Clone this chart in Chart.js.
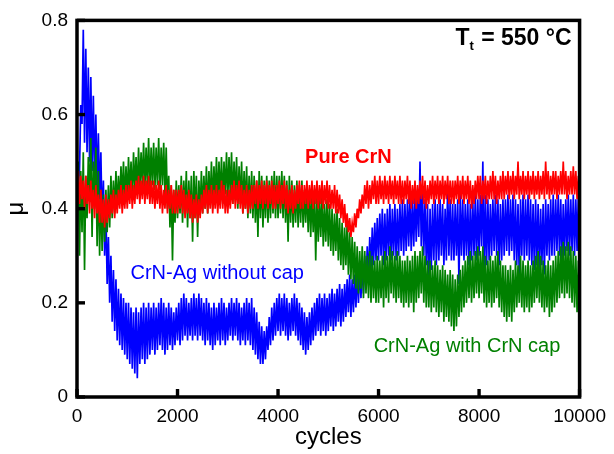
<!DOCTYPE html>
<html>
<head>
<meta charset="utf-8">
<script src="https://cdn.jsdelivr.net/npm/chart.js@4"></script>
<style>
  html, body { margin: 0; padding: 0; background: #fff; }
  #wrap { width: 614px; height: 454px; position: relative; }
</style>
</head>
<body>
<div id="wrap"><canvas id="c"></canvas></div>
<script>
// friction trace: lower and upper edge of the noisy
// band, one pair every STEP cycles
const STEP = 50;

const pureLo = [
  0.42,0.41,0.42,0.40,0.41,0.39,0.40,0.38,0.39,0.37,
  0.37,0.36,0.37,0.38,0.39,0.38,0.39,0.40,0.39,0.40,
  0.40,0.41,0.40,0.41,0.42,0.41,0.42,0.41,0.42,0.41,
  0.41,0.40,0.41,0.40,0.39,0.40,0.39,0.40,0.39,0.39,
  0.39,0.40,0.39,0.38,0.39,0.38,0.37,0.38,0.37,0.38,
  0.39,0.40,0.39,0.40,0.39,0.40,0.39,0.40,0.40,0.39,
  0.39,0.40,0.41,0.40,0.41,0.40,0.39,0.40,0.39,0.40,
  0.40,0.41,0.40,0.41,0.40,0.41,0.40,0.41,0.40,0.40,
  0.41,0.40,0.41,0.40,0.39,0.40,0.39,0.40,0.41,0.40,
  0.40,0.41,0.40,0.41,0.40,0.41,0.40,0.41,0.40,0.41,
  0.40,0.40,0.40,0.39,0.39,0.38,0.37,0.36,0.35,0.34,
  0.35,0.36,0.38,0.39,0.40,0.41,0.40,0.41,0.42,0.41,
  0.41,0.42,0.41,0.42,0.41,0.42,0.41,0.42,0.41,0.41,
  0.41,0.42,0.41,0.40,0.41,0.40,0.41,0.42,0.41,0.40,
  0.41,0.42,0.41,0.42,0.41,0.42,0.41,0.42,0.41,0.41,
  0.41,0.42,0.41,0.42,0.41,0.42,0.41,0.40,0.41,0.42,
  0.42,0.41,0.42,0.41,0.42,0.42,0.42,0.41,0.42,0.42,
  0.42,0.43,0.42,0.43,0.42,0.43,0.42,0.43,0.42,0.43,
  0.42,0.43,0.42,0.43,0.42,0.43,0.42,0.43,0.42,0.43,
  0.43,0.42,0.43,0.43,0.43,0.42,0.43,0.43,0.43,0.42,
  0.43
];
const pureHi = [
  0.48,0.47,0.46,0.47,0.45,0.46,0.44,0.45,0.43,0.44,
  0.42,0.43,0.42,0.43,0.44,0.43,0.44,0.45,0.44,0.45,
  0.45,0.46,0.45,0.46,0.47,0.46,0.47,0.46,0.47,0.46,
  0.46,0.45,0.46,0.45,0.44,0.45,0.44,0.45,0.44,0.44,
  0.44,0.45,0.44,0.43,0.44,0.43,0.42,0.43,0.42,0.43,
  0.44,0.45,0.44,0.45,0.44,0.45,0.44,0.46,0.45,0.44,
  0.44,0.45,0.46,0.45,0.46,0.45,0.44,0.45,0.44,0.45,
  0.45,0.46,0.45,0.46,0.45,0.46,0.45,0.46,0.45,0.45,
  0.46,0.45,0.46,0.45,0.44,0.45,0.44,0.45,0.46,0.45,
  0.45,0.46,0.45,0.46,0.45,0.46,0.45,0.46,0.45,0.46,
  0.45,0.44,0.45,0.44,0.43,0.42,0.41,0.39,0.38,0.37,
  0.39,0.40,0.42,0.43,0.45,0.46,0.45,0.46,0.47,0.46,
  0.47,0.46,0.47,0.46,0.47,0.46,0.47,0.46,0.47,0.46,
  0.46,0.47,0.46,0.45,0.46,0.45,0.46,0.47,0.46,0.45,
  0.46,0.47,0.46,0.47,0.46,0.47,0.46,0.47,0.46,0.46,
  0.46,0.47,0.46,0.47,0.46,0.47,0.46,0.45,0.46,0.47,
  0.47,0.46,0.47,0.46,0.47,0.48,0.47,0.46,0.47,0.48,
  0.47,0.48,0.47,0.48,0.47,0.50,0.47,0.48,0.47,0.48,
  0.47,0.48,0.47,0.48,0.47,0.48,0.50,0.48,0.47,0.48,
  0.48,0.47,0.48,0.50,0.48,0.47,0.48,0.49,0.48,0.47,
  0.48
];

const capLo = [
  0.40,0.30,0.35,0.27,0.38,0.42,0.34,0.40,0.32,0.30,
  0.31,0.33,0.35,0.36,0.38,0.39,0.40,0.41,0.42,0.41,
  0.42,0.43,0.42,0.44,0.43,0.44,0.45,0.44,0.45,0.44,
  0.45,0.44,0.45,0.44,0.45,0.43,0.40,0.36,0.29,0.37,
  0.38,0.39,0.37,0.39,0.36,0.38,0.33,0.38,0.34,0.39,
  0.39,0.40,0.39,0.41,0.40,0.42,0.41,0.42,0.41,0.43,
  0.42,0.43,0.41,0.42,0.40,0.41,0.39,0.40,0.38,0.39,
  0.38,0.37,0.34,0.38,0.36,0.38,0.37,0.38,0.39,0.38,
  0.38,0.39,0.38,0.37,0.33,0.37,0.36,0.37,0.36,0.37,
  0.36,0.37,0.35,0.34,0.35,0.29,0.33,0.34,0.32,0.33,
  0.32,0.31,0.30,0.31,0.29,0.28,0.27,0.28,0.26,0.25,
  0.24,0.23,0.22,0.23,0.21,0.22,0.21,0.20,0.21,0.20,
  0.20,0.21,0.19,0.21,0.20,0.22,0.21,0.20,0.21,0.20,
  0.19,0.20,0.19,0.20,0.18,0.20,0.21,0.22,0.20,0.19,
  0.19,0.18,0.19,0.18,0.17,0.18,0.16,0.17,0.16,0.15,
  0.14,0.15,0.17,0.18,0.19,0.20,0.21,0.20,0.21,0.22,
  0.21,0.22,0.20,0.19,0.20,0.19,0.20,0.21,0.19,0.18,
  0.17,0.16,0.17,0.16,0.18,0.19,0.20,0.19,0.18,0.19,
  0.18,0.19,0.20,0.21,0.20,0.19,0.18,0.19,0.17,0.18,
  0.19,0.20,0.21,0.22,0.21,0.22,0.21,0.20,0.19,0.18,
  0.19
];
const capHi = [
  0.50,0.48,0.52,0.47,0.51,0.55,0.50,0.53,0.48,0.44,
  0.43,0.44,0.45,0.47,0.46,0.48,0.47,0.49,0.50,0.49,
  0.51,0.50,0.52,0.51,0.53,0.52,0.54,0.53,0.55,0.53,
  0.54,0.53,0.55,0.53,0.54,0.53,0.47,0.45,0.44,0.46,
  0.45,0.47,0.46,0.48,0.46,0.47,0.48,0.47,0.46,0.48,
  0.47,0.49,0.48,0.50,0.49,0.51,0.50,0.51,0.50,0.52,
  0.51,0.52,0.50,0.51,0.49,0.50,0.48,0.49,0.47,0.48,
  0.47,0.46,0.48,0.47,0.46,0.47,0.46,0.47,0.48,0.47,
  0.47,0.48,0.47,0.46,0.47,0.46,0.45,0.46,0.45,0.46,
  0.44,0.45,0.44,0.43,0.44,0.43,0.42,0.43,0.41,0.42,
  0.41,0.40,0.39,0.40,0.38,0.37,0.36,0.37,0.35,0.34,
  0.33,0.32,0.31,0.32,0.31,0.30,0.31,0.30,0.29,0.30,
  0.29,0.30,0.31,0.30,0.32,0.31,0.30,0.31,0.30,0.29,
  0.29,0.30,0.29,0.30,0.31,0.30,0.31,0.32,0.30,0.29,
  0.29,0.28,0.29,0.28,0.27,0.28,0.27,0.26,0.27,0.26,
  0.25,0.26,0.27,0.28,0.29,0.30,0.31,0.30,0.31,0.32,
  0.31,0.32,0.30,0.29,0.30,0.29,0.30,0.31,0.29,0.28,
  0.28,0.27,0.28,0.27,0.29,0.28,0.30,0.29,0.28,0.29,
  0.28,0.29,0.30,0.31,0.30,0.29,0.28,0.29,0.28,0.29,
  0.30,0.31,0.32,0.33,0.32,0.33,0.32,0.31,0.30,0.29,
  0.30
];

const noCapLo = [
  0.35,0.48,0.58,0.54,0.52,0.50,0.48,0.46,0.44,0.42,
  0.36,0.30,0.24,0.20,0.16,0.14,0.12,0.11,0.10,0.09,
  0.08,0.07,0.06,0.05,0.04,0.07,0.08,0.07,0.08,0.09,
  0.10,0.09,0.10,0.11,0.10,0.09,0.10,0.11,0.10,0.11,
  0.12,0.11,0.12,0.13,0.12,0.13,0.12,0.13,0.12,0.13,
  0.12,0.11,0.12,0.11,0.10,0.11,0.12,0.11,0.12,0.11,
  0.12,0.13,0.12,0.13,0.12,0.11,0.12,0.11,0.12,0.11,
  0.10,0.09,0.08,0.07,0.07,0.08,0.10,0.11,0.12,0.13,
  0.14,0.13,0.14,0.13,0.12,0.13,0.14,0.13,0.12,0.11,
  0.10,0.09,0.10,0.11,0.12,0.13,0.14,0.13,0.14,0.13,
  0.14,0.15,0.14,0.15,0.16,0.15,0.16,0.17,0.18,0.17,
  0.18,0.19,0.20,0.21,0.22,0.23,0.25,0.27,0.28,0.29,
  0.29,0.30,0.28,0.29,0.30,0.29,0.30,0.29,0.30,0.31,
  0.30,0.31,0.32,0.31,0.32,0.33,0.34,0.32,0.30,0.28,
  0.23,0.27,0.29,0.28,0.29,0.30,0.28,0.29,0.30,0.29,
  0.29,0.30,0.24,0.30,0.29,0.30,0.28,0.29,0.30,0.29,
  0.30,0.32,0.25,0.28,0.29,0.30,0.31,0.30,0.28,0.29,
  0.30,0.31,0.30,0.31,0.29,0.28,0.25,0.30,0.29,0.30,
  0.29,0.28,0.27,0.28,0.27,0.28,0.26,0.30,0.29,0.30,
  0.30,0.31,0.30,0.29,0.30,0.31,0.30,0.31,0.30,0.31,
  0.32
];
const noCapHi = [
  0.45,0.62,0.78,0.74,0.70,0.68,0.64,0.60,0.56,0.52,
  0.46,0.40,0.34,0.30,0.27,0.25,0.23,0.22,0.21,0.20,
  0.20,0.19,0.18,0.19,0.18,0.19,0.20,0.19,0.20,0.19,
  0.20,0.19,0.20,0.21,0.20,0.19,0.20,0.19,0.18,0.19,
  0.20,0.21,0.22,0.21,0.20,0.21,0.22,0.21,0.22,0.21,
  0.20,0.21,0.20,0.19,0.20,0.19,0.20,0.21,0.20,0.19,
  0.20,0.21,0.20,0.21,0.20,0.19,0.20,0.21,0.20,0.21,
  0.19,0.18,0.16,0.15,0.14,0.15,0.17,0.19,0.20,0.21,
  0.22,0.21,0.22,0.21,0.20,0.21,0.22,0.21,0.20,0.19,
  0.18,0.17,0.18,0.19,0.20,0.21,0.22,0.21,0.22,0.21,
  0.22,0.23,0.22,0.23,0.24,0.23,0.24,0.25,0.26,0.25,
  0.26,0.27,0.28,0.29,0.30,0.32,0.34,0.36,0.37,0.38,
  0.39,0.40,0.39,0.40,0.41,0.40,0.41,0.40,0.41,0.42,
  0.41,0.42,0.43,0.42,0.43,0.44,0.50,0.44,0.42,0.41,
  0.40,0.41,0.42,0.41,0.42,0.41,0.40,0.45,0.42,0.41,
  0.41,0.42,0.43,0.42,0.41,0.42,0.41,0.42,0.43,0.42,
  0.43,0.50,0.43,0.42,0.41,0.42,0.43,0.42,0.41,0.42,
  0.42,0.43,0.42,0.43,0.42,0.41,0.42,0.43,0.42,0.43,
  0.42,0.41,0.42,0.41,0.40,0.41,0.42,0.41,0.42,0.43,
  0.42,0.43,0.42,0.41,0.42,0.43,0.42,0.43,0.42,0.43,
  0.42
];

const xTicks = [0, 2000, 4000, 6000, 8000, 10000];
const yTicks = [0, 0.2, 0.4, 0.6, 0.8];

const notes = [
  { text: 'Pure CrN', x: 5400, y: 0.508, color: '#ff0000', weight: 'bold' },
  { text: 'CrN-Ag without cap', x: 2790, y: 0.262, color: '#0000ff', weight: 'normal' },
  { text: 'CrN-Ag with CrN cap', x: 7760, y: 0.108, color: '#008000', weight: 'normal' }
];

const FONT = "'Liberation Sans', Arial, sans-serif";

// the trace swings from the low edge to the high edge between samples
function trace(lo, hi) {
  const pts = [];
  lo.forEach((v, i) => {
    pts.push({ x: i * STEP, y: v });
    pts.push({ x: i * STEP + STEP / 2, y: hi[i] });
  });
  return pts;
}

const frame = {
  id: 'frame',
  afterDatasetsDraw(chart) {
    const { ctx, chartArea: a, scales } = chart;
    ctx.save();
    ctx.fillStyle = '#000';
    // inward ticks
    xTicks.forEach(t => {
      const px = scales.x.getPixelForValue(t);
      ctx.fillRect(px - 1.7, a.bottom - 8, 3.4, 8);
    });
    yTicks.forEach(t => {
      const py = scales.y.getPixelForValue(t);
      ctx.fillRect(a.left, py - 1.7, 8, 3.4);
    });
    ctx.strokeStyle = '#000';
    ctx.lineWidth = 3.5;
    ctx.strokeRect(a.left, a.top, a.right - a.left, a.bottom - a.top);

    // curve labels
    ctx.textAlign = 'center';
    ctx.textBaseline = 'middle';
    notes.forEach(n => {
      ctx.font = n.weight + ' 20px ' + FONT;
      ctx.fillStyle = n.color;
      ctx.fillText(n.text, scales.x.getPixelForValue(n.x), scales.y.getPixelForValue(n.y));
    });

    // test temperature, T with subscript t
    const right = a.right - 8;
    const base = a.top + 25;
    ctx.fillStyle = '#000';
    ctx.textAlign = 'left';
    ctx.textBaseline = 'alphabetic';
    ctx.font = 'bold 23px ' + FONT;
    const rest = ' = 550 \u00B0C';
    const wRest = ctx.measureText(rest).width;
    const wT = ctx.measureText('T').width;
    ctx.font = 'bold 13px ' + FONT;
    const wSub = ctx.measureText('t').width;
    const x0 = right - wRest - wSub - wT - 1;
    ctx.font = 'bold 23px ' + FONT;
    ctx.fillText('T', x0, base);
    ctx.fillText(rest, x0 + wT + wSub + 1, base);
    ctx.font = 'bold 13px ' + FONT;
    ctx.fillText('t', x0 + wT, base + 5);
    ctx.restore();
  }
};

new Chart(document.getElementById('c'), {
  type: 'line',
  data: {
    datasets: [
      { label: 'Pure CrN', data: trace(pureLo, pureHi), borderColor: '#ff0000', order: 1 },
      { label: 'CrN-Ag with CrN cap', data: trace(capLo, capHi), borderColor: '#008000', order: 2 },
      { label: 'CrN-Ag without cap', data: trace(noCapLo, noCapHi), borderColor: '#0000ff', order: 3 }
    ]
  },
  options: {
    responsive: true,
    maintainAspectRatio: false,
    animation: false,
    events: [],
    layout: { padding: { top: 20, right: 29, left: 0, bottom: 0 } },
    elements: {
      line: { borderWidth: 1.7, tension: 0 },
      point: { radius: 0 }
    },
    plugins: {
      legend: { display: false },
      tooltip: { enabled: false }
    },
    scales: {
      x: {
        type: 'linear',
        min: 0,
        max: 10000,
        afterBuildTicks: s => { s.ticks = xTicks.map(v => ({ value: v })); },
        afterFit: s => { s.height = 57; },
        grid: { display: false, drawTicks: false },
        border: { display: false },
        ticks: {
          color: '#000',
          padding: 8,
          maxRotation: 0,
          font: { family: FONT, size: 19 },
          callback: v => String(v)
        },
        title: {
          display: true,
          text: 'cycles',
          color: '#000',
          padding: { top: 0, bottom: 2 },
          font: { family: FONT, size: 24 }
        }
      },
      y: {
        min: 0,
        max: 0.8,
        afterBuildTicks: s => { s.ticks = yTicks.map(v => ({ value: v })); },
        afterFit: s => { s.width = 77; },
        grid: { display: false, drawTicks: false },
        border: { display: false },
        ticks: {
          color: '#000',
          padding: 9,
          font: { family: FONT, size: 19 },
          callback: v => String(v)
        },
        title: {
          display: true,
          text: '\u03BC',
          color: '#000',
          padding: { top: 2, bottom: 0 },
          font: { family: FONT, size: 24 }
        }
      }
    }
  },
  plugins: [frame]
});
</script>
</body>
</html>
